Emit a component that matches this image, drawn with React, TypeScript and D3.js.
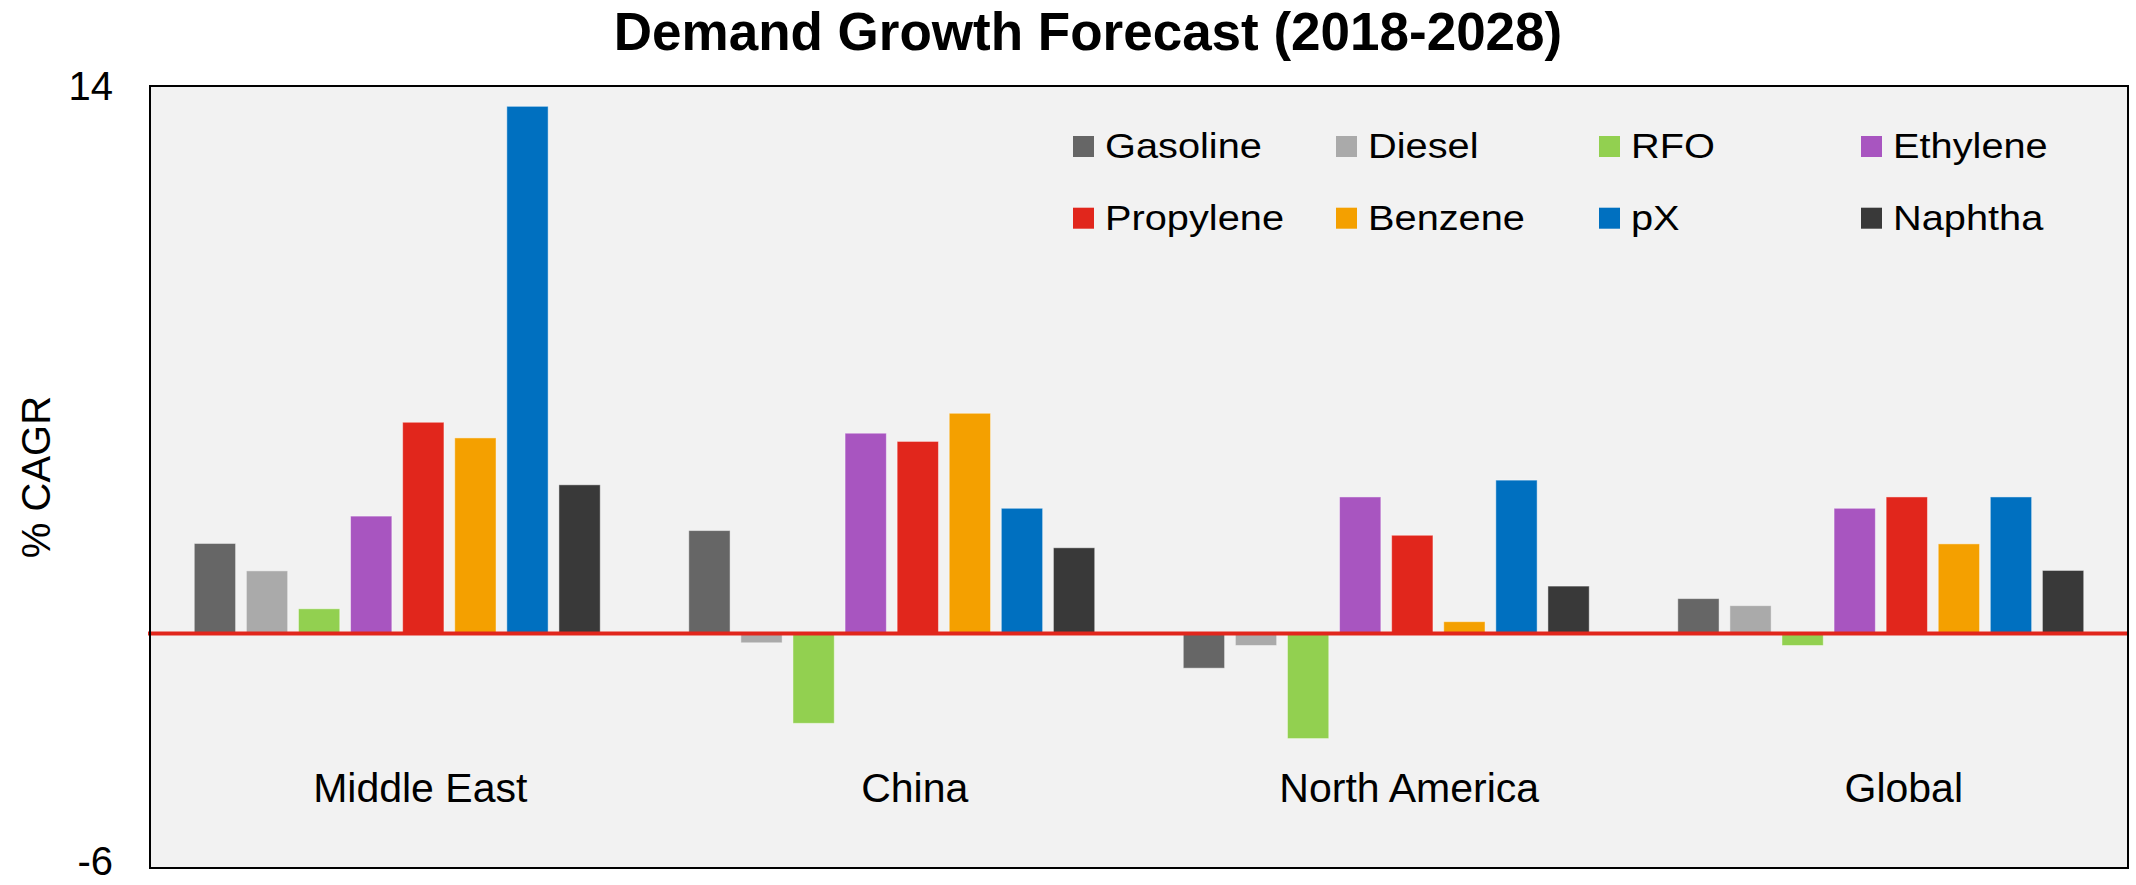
import React, { useEffect } from "react";
import * as d3 from "d3";

const categories = ["Middle East", "China", "North America", "Global"];
const seriesNames = ["Gasoline", "Diesel", "RFO", "Ethylene", "Propylene", "Benzene", "pX", "Naphtha"];
const seriesColors = ["#666666", "#aaaaaa", "#92d050", "#a855c0", "#e1261c", "#f4a000", "#0070c0", "#393939"];

const gasoline = [2.3, 2.63, -0.89, 0.89];
const diesel = [1.6, -0.24, -0.31, 0.71];
const rfo = [0.63, -2.3, -2.69, -0.31];
const ethylene = [3.0, 5.12, 3.49, 3.2];
const propylene = [5.4, 4.91, 2.51, 3.49];
const benzene = [5.0, 5.63, 0.3, 2.29];
const px = [13.48, 3.2, 3.92, 3.49];
const naphtha = [3.8, 2.19, 1.21, 1.61];

const seriesValues = [gasoline, diesel, rfo, ethylene, propylene, benzene, px, naphtha];
const yTicks = [14, -6];
const yDomain: [number, number] = [-6, 14];

const W = 2136;
const H = 885;
const M = { left: 150, right: 2128, top: 86, bottom: 868 };
const FONT = "'Liberation Sans', Arial, Helvetica, sans-serif";

export default function App() {
  useEffect(() => {
    document.body.style.margin = "0";
    document.body.style.overflow = "hidden";
  }, []);

  const x0 = d3.scaleBand<string>().domain(categories).range([M.left, M.right]).padding(0);
  const x1 = d3
    .scaleBand<string>()
    .domain(seriesNames)
    .range([0, x0.bandwidth()])
    .paddingInner(0.207)
    .paddingOuter(0.85);
  const y = d3.scaleLinear().domain(yDomain).range([M.bottom, M.top]);
  const y0 = y(0);

  const legendCols = [1073, 1336, 1599, 1861];
  const legendRows = [136, 207.7];
  const sq = 21;

  return (
    <svg width={W} height={H} style={{ display: "block", background: "#ffffff" }} fontFamily={FONT}>
      <rect x={0} y={0} width={W} height={H} fill="#ffffff" />
      <text x={1088} y={50} textAnchor="middle" fontSize={53} fontWeight="bold" fill="#000">
        Demand Growth Forecast (2018-2028)
      </text>
      <rect x={M.left} y={M.top} width={M.right - M.left} height={M.bottom - M.top} fill="#f2f2f2" />

      {seriesNames.map((s, si) => (
        <g key={s}>
          {categories.map((c, ci) => {
            const v = seriesValues[si][ci];
            const yt = y(Math.max(0, v));
            const yb = y(Math.min(0, v));
            return (
              <rect
                key={c}
                x={(x0(c) as number) + (x1(s) as number)}
                y={yt}
                width={x1.bandwidth()}
                height={yb - yt}
                fill={seriesColors[si]}
                stroke="#ffffff"
                strokeOpacity={0.45}
                strokeWidth={1}
              />
            );
          })}
        </g>
      ))}

      <line x1={M.left - 2} x2={M.right} y1={y0} y2={y0} stroke="#e1261c" strokeWidth={4} />

      <rect
        x={M.left}
        y={M.top}
        width={M.right - M.left}
        height={M.bottom - M.top}
        fill="none"
        stroke="#000"
        strokeWidth={2}
      />

      {yTicks.map((t) => (
        <text
          key={t}
          x={113}
          y={Math.min(y(t), H - 24)}
          textAnchor="end"
          dominantBaseline="central"
          fontSize={40}
          fill="#000"
        >
          {t}
        </text>
      ))}

      <text
        transform={`translate(50, ${(M.top + M.bottom) / 2}) rotate(-90)`}
        textAnchor="middle"
        fontSize={40}
        fill="#000"
      >
        % CAGR
      </text>

      {categories.map((c) => (
        <text
          key={c}
          x={(x0(c) as number) + x0.bandwidth() / 2 + 23}
          y={802}
          textAnchor="middle"
          fontSize={41}
          fill="#000"
        >
          {c}
        </text>
      ))}

      {seriesNames.map((s, i) => {
        const col = i % 4;
        const row = Math.floor(i / 4);
        const lx = legendCols[col];
        const ly = legendRows[row];
        return (
          <g key={s}>
            <rect x={lx} y={ly} width={sq} height={sq} fill={seriesColors[i]} />
            <text
              transform={`translate(${lx + 32}, ${ly + sq + 1}) scale(1.12, 1)`}
              fontSize={35.5}
              fill="#000"
            >
              {s}
            </text>
          </g>
        );
      })}
    </svg>
  );
}
